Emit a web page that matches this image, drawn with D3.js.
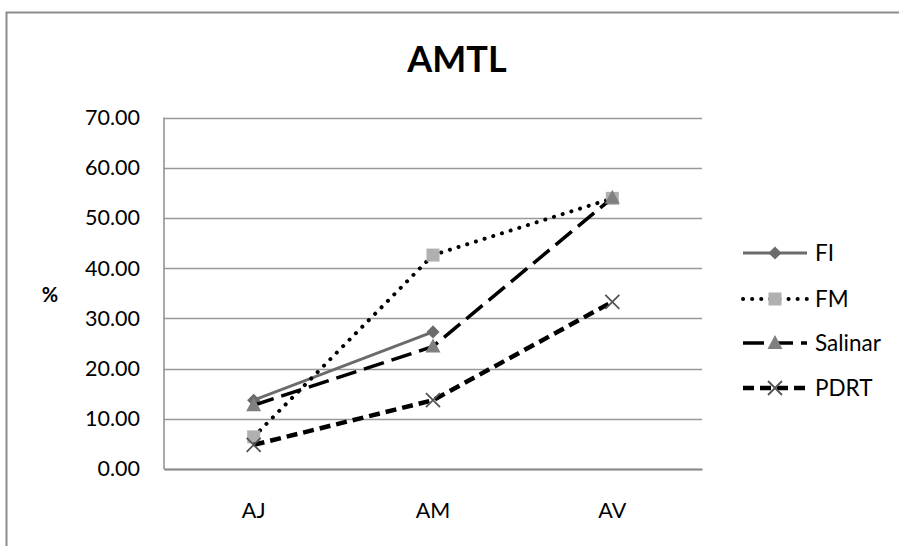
<!DOCTYPE html>
<html>
<head>
<meta charset="utf-8">
<script src="https://cdn.jsdelivr.net/npm/d3@7"></script>
<style>
  body { margin: 0; background: #fff; }
  svg { display: block; font-family: Lato, "Noto Sans", sans-serif; }
</style>
</head>
<body>
<div id="chart"></div>
<script>
// chart data
const categories = ["AJ", "AM", "AV"];
const seriesNames = ["FI", "FM", "Salinar", "PDRT"];
const fiValues = [13.7, 27.3, null];
const fmValues = [6.4, 42.6, 53.9];
const salinarValues = [12.7, 24.4, 54.0];
const pdrtValues = [4.8, 13.7, 33.3];
const yTicks = [0, 10, 20, 30, 40, 50, 60, 70];

const width = 899, height = 546;
const margin = { top: 117.5, left: 164, right: 197, bottom: 77 };

const svg = d3.select("#chart").append("svg")
  .attr("width", width)
  .attr("height", height);

// outer chart border (runs past the right/bottom edge)
svg.append("rect")
  .attr("x", 6.5).attr("y", 12.5)
  .attr("width", 920).attr("height", 560)
  .attr("fill", "none")
  .attr("stroke", "#8c8c8c")
  .attr("stroke-width", 2);

svg.append("text")
  .attr("x", 457).attr("y", 72)
  .attr("text-anchor", "middle")
  .attr("font-size", 36)
  .attr("font-weight", "bold")
  .attr("fill", "#000")
  .text("AMTL");

const x = d3.scaleBand().domain(categories)
  .range([margin.left, width - margin.right]).padding(0);
const y = d3.scaleLinear().domain([0, 70])
  .range([height - margin.bottom, margin.top]);

// gridlines
svg.append("g")
  .selectAll("line")
  .data(yTicks)
  .enter().append("line")
  .attr("x1", margin.left)
  .attr("x2", width - margin.right)
  .attr("y1", d => Math.round(y(d)) + 0.5)
  .attr("y2", d => Math.round(y(d)) + 0.5)
  .attr("stroke", "#999")
  .attr("stroke-width", 1.5);

// y axis line + labels
svg.append("line")
  .attr("x1", margin.left).attr("x2", margin.left)
  .attr("y1", y(70)).attr("y2", y(0))
  .attr("stroke", "#8c8c8c").attr("stroke-width", 1.5);

const yAxis = svg.append("g")
  .attr("transform", "translate(" + (margin.left - 24) + ",0)")
  .call(d3.axisLeft(y).tickValues(yTicks).tickFormat(d3.format(".2f")).tickSize(0).tickPadding(0));
yAxis.select(".domain").remove();
yAxis.selectAll("text")
  .attr("font-size", 21.5)
  .attr("font-family", "Lato, sans-serif")
  .attr("fill", "#000");

// x axis
const xAxis = svg.append("g")
  .attr("transform", "translate(0," + y(0) + ")")
  .call(d3.axisBottom(x).tickSize(0).tickPadding(34));
xAxis.select(".domain").attr("stroke", "#8c8c8c").attr("stroke-width", 2);
xAxis.selectAll("text")
  .attr("font-size", 21.5)
  .attr("font-family", "Lato, sans-serif")
  .attr("fill", "#000");

svg.append("text")
  .attr("x", 50).attr("y", 302)
  .attr("text-anchor", "middle")
  .attr("font-size", 20)
  .attr("font-weight", "bold")
  .text("%");

const series = [
  { name: seriesNames[0], values: fiValues, stroke: "#6b6b6b", width: 3, dash: null, cap: "butt", marker: "diamond", fill: "#6b6b6b" },
  { name: seriesNames[1], values: fmValues, stroke: "#000", width: 4, dash: "0.1,9", cap: "round", marker: "square", fill: "#b0b0b0" },
  { name: seriesNames[2], values: salinarValues, stroke: "#000", width: 3.5, dash: "21,8", cap: "butt", marker: "triangle", fill: "#808080" },
  { name: seriesNames[3], values: pdrtValues, stroke: "#000", width: 4.5, dash: "11,6", cap: "butt", marker: "cross", fill: "#555" }
];

const cx = c => x(c) + x.bandwidth() / 2;

function drawMarker(g, type, px, py, fill) {
  if (type === "diamond") {
    g.append("path")
      .attr("d", d3.symbol().type(d3.symbolDiamond2).size(110)())
      .attr("transform", "translate(" + px + "," + py + ")")
      .attr("fill", fill);
  } else if (type === "square") {
    g.append("rect")
      .attr("x", px - 6.5).attr("y", py - 6.5)
      .attr("width", 13).attr("height", 13)
      .attr("fill", fill);
  } else if (type === "triangle") {
    g.append("path")
      .attr("d", "M0,-8L7.5,6L-7.5,6Z")
      .attr("transform", "translate(" + px + "," + py + ")")
      .attr("fill", fill);
  } else {
    g.append("path")
      .attr("d", "M-7,-7L7,7M-7,7L7,-7")
      .attr("transform", "translate(" + px + "," + py + ")")
      .attr("stroke", fill)
      .attr("stroke-width", 1.8)
      .attr("fill", "none");
  }
}

const line = d3.line()
  .defined(d => d.v != null)
  .x(d => cx(d.c))
  .y(d => y(d.v));

series.forEach(s => {
  const pts = categories.map((c, i) => ({ c: c, v: s.values[i] }));
  const g = svg.append("g");
  g.append("path")
    .datum(pts)
    .attr("d", line)
    .attr("fill", "none")
    .attr("stroke", s.stroke)
    .attr("stroke-width", s.width)
    .attr("stroke-linecap", s.cap)
    .attr("stroke-dasharray", s.dash);
  pts.filter(d => d.v != null).forEach(d => drawMarker(g, s.marker, cx(d.c), y(d.v), s.fill));
});

// legend
const legendY = [253, 299, 343, 388];
const legend = svg.append("g");
series.forEach((s, i) => {
  const ly = legendY[i];
  legend.append("line")
    .attr("x1", 743).attr("x2", 807)
    .attr("y1", ly).attr("y2", ly)
    .attr("stroke", s.stroke)
    .attr("stroke-width", s.width)
    .attr("stroke-linecap", s.cap)
    .attr("stroke-dasharray", s.dash);
  drawMarker(legend, s.marker, 775, ly, s.fill);
  legend.append("text")
    .attr("x", 815).attr("y", ly)
    .attr("dy", "0.35em")
    .attr("font-size", 22.5)
    .attr("fill", "#000")
    .text(s.name);
});
</script>
</body>
</html>
